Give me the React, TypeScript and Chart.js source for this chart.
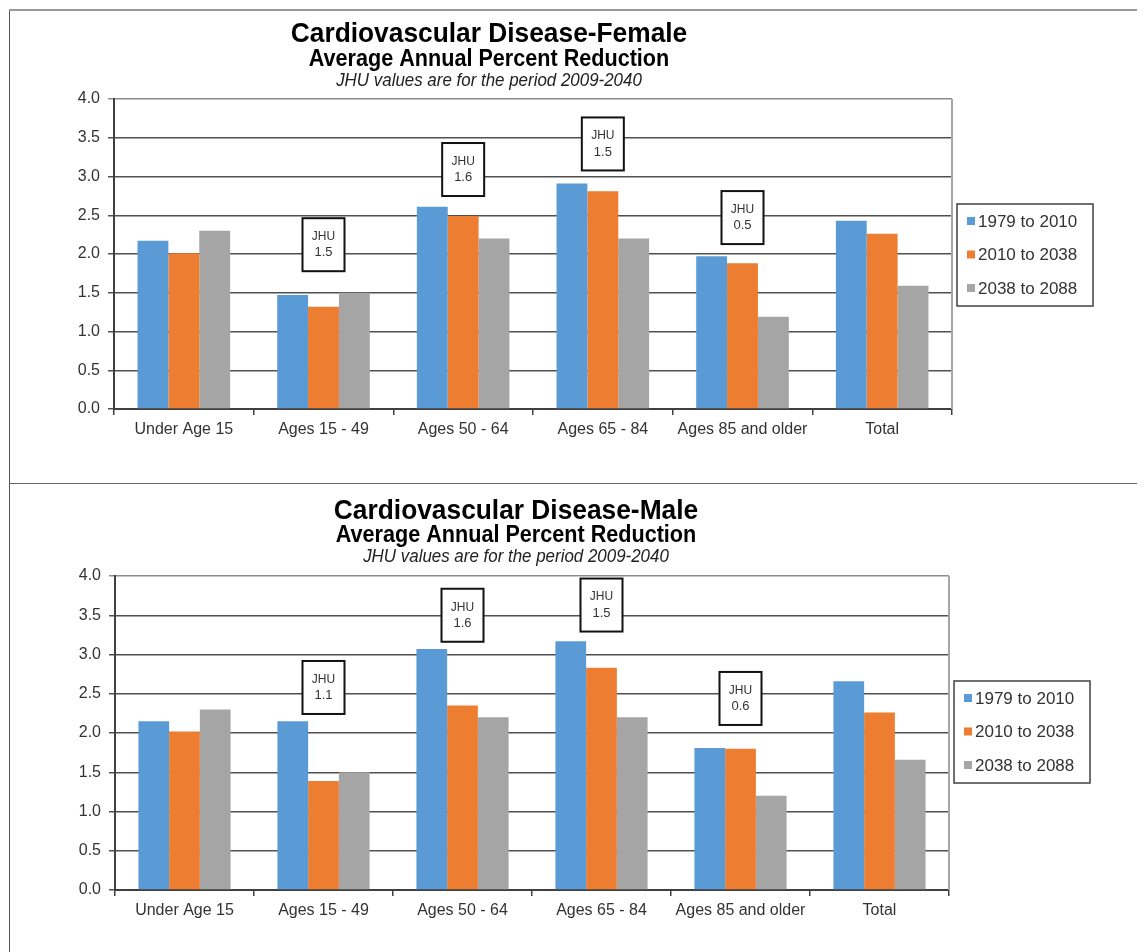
import React, { useEffect, useRef } from "react";
import { Chart, registerables } from "chart.js";
Chart.register(...registerables);

const categories = ["Under Age 15", "Ages 15 - 49", "Ages 50 - 64", "Ages 65 - 84", "Ages 85 and older", "Total"];
const seriesLabels = ["1979 to 2010", "2010 to 2038", "2038 to 2088"];
const seriesColors = ["#5B9BD5", "#ED7D31", "#A5A5A5"];

const femaleP1 = [2.17, 1.47, 2.61, 2.91, 1.97, 2.43];
const femaleP2 = [2.01, 1.32, 2.49, 2.81, 1.88, 2.26];
const femaleP3 = [2.30, 1.50, 2.20, 2.20, 1.19, 1.59];

const maleP1 = [2.15, 2.15, 3.07, 3.17, 1.81, 2.66];
const maleP2 = [2.02, 1.39, 2.35, 2.83, 1.80, 2.26];
const maleP3 = [2.30, 1.50, 2.20, 2.20, 1.20, 1.66];

const femaleJhu = [null, "1.5", "1.6", "1.5", "0.5", null];
const maleJhu = [null, "1.1", "1.6", "1.5", "0.6", null];
const femaleJhuAnchor = [null, 2.12, 3.09, 3.42, 2.47, null];
const maleJhuAnchor = [null, 2.58, 3.5, 3.63, 2.44, null];

const yMin = 0;
const yMax = 4;
const yStep = 0.5;

const femaleTitles = ["Cardiovascular Disease-Female", "Average Annual Percent Reduction", "JHU values are for the period 2009-2040"];
const maleTitles = ["Cardiovascular Disease-Male", "Average Annual Percent Reduction", "JHU values are for the period 2009-2040"];

const FONT = '"Liberation Sans", Arial, sans-serif';

type PanelCfg = {
  top: number;
  height: number;
  padTop: number;
  padRight: number;
  yWidth: number;
  xHeight: number;
  titleX: number;
  titleY: number[];
  legendDy: number;
};

function drawScaledText(ctx: CanvasRenderingContext2D, text: string, x: number, y: number, font: string, sx: number) {
  ctx.save();
  ctx.font = font;
  ctx.textAlign = "center";
  ctx.textBaseline = "alphabetic";
  ctx.translate(x, y);
  ctx.scale(sx, 1);
  ctx.fillText(text, 0, 0);
  ctx.restore();
}

function Panel({ cfg, titles, values, jhu, jhuAnchor }: { cfg: PanelCfg; titles: string[]; values: number[][]; jhu: (string | null)[]; jhuAnchor: (number | null)[] }) {
  const ref = useRef<HTMLCanvasElement>(null);
  useEffect(() => {
    if (!ref.current) return;
    const extras = {
      id: "extras",
      afterDatasetsDraw(chart: any) {
        const { ctx, chartArea, scales } = chart;
        // right border of plot area
        ctx.save();
        ctx.strokeStyle = "#a6a6a6";
        ctx.lineWidth = 2;
        ctx.beginPath();
        ctx.moveTo(chartArea.right, chartArea.top);
        ctx.lineTo(chartArea.right, chartArea.bottom);
        ctx.stroke();
        ctx.restore();
        // JHU boxes
        jhu.forEach((txt, i) => {
          const a = jhuAnchor[i];
          if (txt == null || a == null) return;
          const cx = scales.x.getPixelForValue(i);
          const cy = scales.y.getPixelForValue(a);
          const w = 42, h = 53;
          ctx.save();
          ctx.fillStyle = "#ffffff";
          ctx.fillRect(cx - w / 2, cy - h / 2, w, h);
          ctx.strokeStyle = "#111111";
          ctx.lineWidth = 2;
          ctx.strokeRect(cx - w / 2, cy - h / 2, w, h);
          ctx.fillStyle = "#333333";
          ctx.textAlign = "center";
          ctx.textBaseline = "middle";
          ctx.font = `12px ${FONT}`;
          ctx.fillText("JHU", cx, cy - 8);
          ctx.font = `13px ${FONT}`;
          ctx.fillText(txt, cx, cy + 8);
          ctx.restore();
        });
      },
      afterDraw(chart: any) {
        const { ctx, chartArea } = chart;
        ctx.save();
        ctx.fillStyle = "#000000";
        drawScaledText(ctx, titles[0], cfg.titleX, cfg.titleY[0], `bold 28px ${FONT}`, 0.94);
        drawScaledText(ctx, titles[1], cfg.titleX, cfg.titleY[1], `bold 24px ${FONT}`, 0.9);
        ctx.fillStyle = "#222222";
        drawScaledText(ctx, titles[2], cfg.titleX, cfg.titleY[2], `italic 18px ${FONT}`, 0.94);
        // legend
        const lw = 136, lh = 102;
        const left = chartArea.right + 5;
        const top = (chartArea.top + chartArea.bottom) / 2 - lh / 2 + cfg.legendDy;
        ctx.fillStyle = "#ffffff";
        ctx.fillRect(left, top, lw, lh);
        ctx.strokeStyle = "#404040";
        ctx.lineWidth = 1.5;
        ctx.strokeRect(left, top, lw, lh);
        chart.data.datasets.forEach((ds: any, i: number) => {
          const cy = top + 17 + i * 33.5;
          ctx.fillStyle = ds.backgroundColor;
          ctx.fillRect(left + 10, cy - 4, 8, 8);
          ctx.fillStyle = "#333333";
          ctx.font = `17px ${FONT}`;
          ctx.textAlign = "left";
          ctx.textBaseline = "middle";
          ctx.fillText(ds.label, left + 21, cy + 1);
        });
        ctx.restore();
      },
    };
    const chart = new Chart(ref.current, {
      type: "bar",
      data: {
        labels: categories,
        datasets: values.map((v, i) => ({
          label: seriesLabels[i],
          data: v,
          backgroundColor: seriesColors[i],
          borderWidth: 0,
          barPercentage: 1,
          categoryPercentage: 0.663,
        })),
      },
      options: {
        responsive: false,
        animation: false,
        devicePixelRatio: 1,
        layout: { padding: { top: cfg.padTop, right: cfg.padRight, left: 0, bottom: 0 } },
        plugins: { legend: { display: false }, tooltip: { enabled: false }, title: { display: false } },
        scales: {
          x: {
            afterFit: (s: any) => { s.height = cfg.xHeight; },
            grid: { offset: true, drawOnChartArea: false, drawTicks: true, tickLength: 6, color: "#404040", lineWidth: 1.5 },
            border: { color: "#404040", width: 2 },
            ticks: { font: { size: 16, family: FONT }, color: "#333333", padding: 5, maxRotation: 0, autoSkip: false },
          },
          y: {
            min: yMin,
            max: yMax,
            afterFit: (s: any) => { s.width = cfg.yWidth; },
            grid: {
              color: (c: any) => (c.tick && c.tick.value === yMax ? "#8c8c8c" : "#505050"),
              lineWidth: 1.5,
              tickLength: 6,
              drawTicks: true,
            },
            border: { color: "#404040", width: 2 },
            ticks: {
              stepSize: yStep,
              font: { size: 16, family: FONT },
              color: "#333333",
              padding: 8,
              callback: (v: any) => Number(v).toFixed(1),
            },
          },
        },
      },
      plugins: [extras],
    });
    return () => chart.destroy();
  }, []);
  return (
    <canvas
      ref={ref}
      width={1135}
      height={cfg.height}
      style={{ position: "absolute", left: 2, top: cfg.top, width: 1135, height: cfg.height, display: "block" }}
    />
  );
}

const topCfg: PanelCfg = { top: 2, height: 472, padTop: 89, padRight: 193, yWidth: 104, xHeight: 73, titleX: 479, titleY: [32, 56, 76], legendDy: 1 };
const botCfg: PanelCfg = { top: 477, height: 467, padTop: 91, padRight: 196, yWidth: 105, xHeight: 62, titleX: 506, titleY: [34, 57, 77], legendDy: -1 };

export default function App() {
  return (
    <div style={{ position: "relative", width: 1137, height: 944, background: "#ffffff", overflow: "hidden" }}>
      <div style={{ position: "absolute", left: 1, top: 1, width: 1, height: 943, background: "#555555" }} />
      <div style={{ position: "absolute", left: 1, top: 1, width: 1136, height: 2, background: "#9a9a9a" }} />
      <div style={{ position: "absolute", left: 1, top: 475, width: 1136, height: 1, background: "#666666" }} />
      <Panel cfg={topCfg} titles={femaleTitles} values={[femaleP1, femaleP2, femaleP3]} jhu={femaleJhu} jhuAnchor={femaleJhuAnchor} />
      <Panel cfg={botCfg} titles={maleTitles} values={[maleP1, maleP2, maleP3]} jhu={maleJhu} jhuAnchor={maleJhuAnchor} />
    </div>
  );
}
